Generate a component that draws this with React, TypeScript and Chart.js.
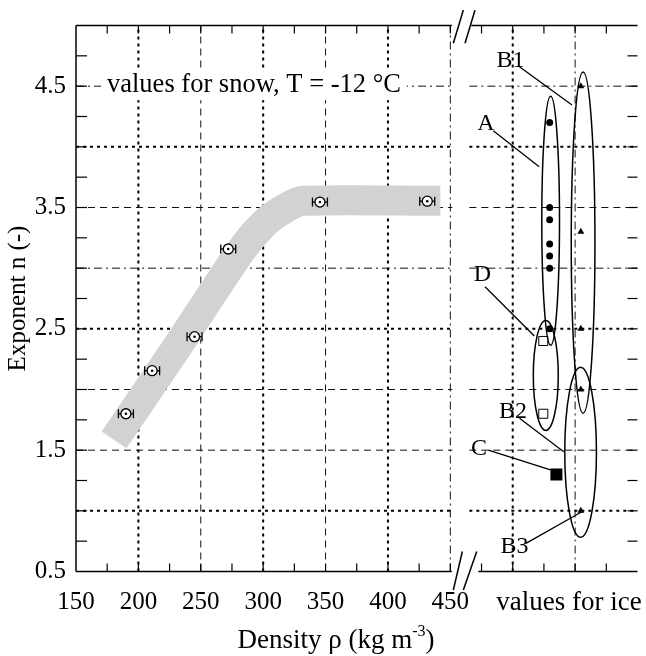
import React, { useEffect, useRef } from "react";
import { Chart, registerables } from "chart.js";

Chart.register(...registerables);

const SERIF = '"Liberation Serif", "Times New Roman", Times, serif';

// ---------------- data ----------------
// snow, T = -12 °C : density (kg m-3) vs exponent n
const snowDensity = [190, 211, 245, 272, 345.5, 431.5];
const snowExponent = [1.8, 2.155, 2.435, 3.158, 3.545, 3.552];
const snowDensityError = [6, 6, 6, 6, 6, 6];

// grey trend band through the snow values
const trendDensity = [180.5, 231, 282, 301, 317, 332, 442];
const trendExponent = [1.585, 2.35, 3.14, 3.37, 3.49, 3.555, 3.555];

// values for ice (plotted in the "ice" column right of the axis break)
const iceAPosition = 529.6;
const iceAExponent = [4.2, 3.5, 3.4, 3.2, 3.1, 3.0, 2.5];
const iceBPosition = 554.6;
const iceBExponent = [4.5, 3.3, 2.5, 2.0, 1.0];
const iceDPosition = 524.5;
const iceDExponent = [2.4, 1.8];
const iceCPosition = 535;
const iceCExponent = [1.3];

// group ellipses: A, B1, D, B2
const groupEllipseX = [530.4, 556.4, 526.5, 554.4];
const groupEllipseY = [3.39, 3.21, 2.116, 1.483];
const groupEllipseHalfX = [7.1, 9.5, 10, 12.7];
const groupEllipseHalfY = [1.026, 1.406, 0.453, 0.7];

// group labels and their leader lines
const groupLabels = ["B1", "A", "D", "B2", "C", "B3"];
const groupLabelX = [498.2, 478.5, 475.7, 500.2, 473, 501.5];
const groupLabelY = [4.709, 4.194, 2.944, 1.819, 1.51, 0.704];
const leaderStartX = [505.4, 484.4, 477.8, 505.4, 480.4, 510.6];
const leaderStartY = [4.66, 4.133, 2.847, 1.763, 1.501, 0.732];
const leaderEndX = [547.5, 521.2, 517.3, 540.9, 530.3, 555.4];
const leaderEndY = [4.345, 3.836, 2.441, 1.487, 1.337, 0.992];

// axes
const xTickValues = [150, 200, 250, 300, 350, 400, 450];
const yTickValues = [0.5, 1.5, 2.5, 3.5, 4.5];
const xGridValues = [200, 250, 300, 350, 400, 450, 500, 550];
const yGridValues = [1.0, 1.5, 2.0, 2.5, 3.0, 3.5, 4.0, 4.5];
const breakAt = 450;

const NOTE = "values for snow, T = -12 °C";
const ICE_LABEL = "values for ice";

// ---------------- styles ----------------
const xGridStyle = ["dot", "dash", "dot", "dash", "dot", "dashdot", "dot", "dashdot"];
const yGridStyle = ["dot", "dash", "dash", "dot", "dashdot", "dash", "dot", "dashdot"];
const GRID: Record<string, { w: number; dash: number[]; c: string }> = {
  dot: { w: 2, dash: [3, 4], c: "#000" },
  dash: { w: 1, dash: [7, 5], c: "#111" },
  dashdot: { w: 1, dash: [8, 4, 2, 4], c: "#111" },
};

const pts = (xs: number[], ys: number[]) => ys.map((v, i) => ({ x: xs[i], y: v }));
const col = (x: number, ys: number[]) => ys.map((v) => ({ x, y: v }));

const line = (ctx: CanvasRenderingContext2D, x1: number, y1: number, x2: number, y2: number) => {
  ctx.beginPath();
  ctx.moveTo(x1, y1);
  ctx.lineTo(x2, y2);
  ctx.stroke();
};

const decor = {
  id: "decor",
  beforeDatasetsDraw(chart: any) {
    const { ctx, chartArea: a } = chart;
    const xs = chart.scales.x;
    const ys = chart.scales.y;
    const bx = xs.getPixelForValue(breakAt);
    ctx.save();
    ctx.lineCap = "butt";
    xGridValues.forEach((v, i) => {
      const st = GRID[xGridStyle[i]];
      ctx.lineWidth = st.w;
      ctx.strokeStyle = st.c;
      ctx.setLineDash(st.dash);
      const X = xs.getPixelForValue(v);
      line(ctx, X, a.bottom, X, a.top);
    });
    yGridValues.forEach((v, i) => {
      const st = GRID[yGridStyle[i]];
      ctx.lineWidth = st.w;
      ctx.strokeStyle = st.c;
      ctx.setLineDash(st.dash);
      const Y = ys.getPixelForValue(v);
      line(ctx, a.left, Y, bx + 2, Y);
      line(ctx, bx + 19, Y, a.right, Y);
    });
    ctx.setLineDash([]);
    ctx.font = `26.5px ${SERIF}`;
    const nx = a.left + 31;
    const ny = ys.getPixelForValue(4.5) + 6;
    const w = ctx.measureText(NOTE).width;
    ctx.fillStyle = "#fff";
    ctx.fillRect(nx - 6, ny - 21, w + 12, 29);
    ctx.fillStyle = "#000";
    ctx.textBaseline = "alphabetic";
    ctx.textAlign = "left";
    ctx.fillText(NOTE, nx, ny);
    ctx.restore();
  },
  afterDatasetDraw(chart: any, args: any) {
    if (chart.data.datasets[args.index].label !== "trend") return;
    const { ctx } = chart;
    const xs = chart.scales.x;
    const ys = chart.scales.y;
    ctx.save();
    ctx.strokeStyle = "#000";
    ctx.lineWidth = 1.3;
    snowDensity.forEach((d, i) => {
      const x1 = xs.getPixelForValue(d - snowDensityError[i]);
      const x2 = xs.getPixelForValue(d + snowDensityError[i]);
      const Y = ys.getPixelForValue(snowExponent[i]);
      line(ctx, x1, Y, x2, Y);
      line(ctx, x1, Y - 4.5, x1, Y + 4.5);
      line(ctx, x2, Y - 4.5, x2, Y + 4.5);
    });
    ctx.restore();
  },
  afterDatasetsDraw(chart: any) {
    const { ctx, chartArea: a } = chart;
    const xs = chart.scales.x;
    const ys = chart.scales.y;
    const bx = xs.getPixelForValue(breakAt);
    ctx.save();
    ctx.strokeStyle = "#000";
    ctx.fillStyle = "#000";
    ctx.setLineDash([]);

    // ellipses
    ctx.lineWidth = 1.5;
    groupEllipseX.forEach((cx, i) => {
      const X = xs.getPixelForValue(cx);
      const Y = ys.getPixelForValue(groupEllipseY[i]);
      const rx = Math.abs(xs.getPixelForValue(cx + groupEllipseHalfX[i]) - X);
      const ry = Math.abs(ys.getPixelForValue(groupEllipseY[i] + groupEllipseHalfY[i]) - Y);
      ctx.beginPath();
      ctx.ellipse(X, Y, rx, ry, 0, 0, Math.PI * 2);
      ctx.stroke();
    });

    // leaders and labels
    ctx.lineWidth = 1.3;
    ctx.font = `24px ${SERIF}`;
    ctx.textAlign = "center";
    ctx.textBaseline = "middle";
    groupLabels.forEach((t, i) => {
      line(
        ctx,
        xs.getPixelForValue(leaderStartX[i]),
        ys.getPixelForValue(leaderStartY[i]),
        xs.getPixelForValue(leaderEndX[i]),
        ys.getPixelForValue(leaderEndY[i])
      );
      ctx.fillText(t, xs.getPixelForValue(groupLabelX[i]), ys.getPixelForValue(groupLabelY[i]));
    });

    // frame
    ctx.lineWidth = 1.5;
    line(ctx, a.left, a.top, a.left, a.bottom);
    line(ctx, a.left, a.bottom, bx + 1.5, a.bottom);
    line(ctx, bx + 28, a.bottom, a.right, a.bottom);
    line(ctx, a.left, a.top, bx + 1.5, a.top);
    line(ctx, bx + 21, a.top, a.right, a.top);

    // inward ticks
    ctx.lineWidth = 1.2;
    for (let v = 175; v < 600; v += 25) {
      const X = xs.getPixelForValue(v);
      if (X > bx + 2 && X < bx + 26) continue;
      line(ctx, X, a.bottom, X, a.bottom - 8);
      line(ctx, X, a.top, X, a.top + 8);
    }
    for (let v = 0.75; v < 5; v += 0.25) {
      const Y = ys.getPixelForValue(v);
      line(ctx, a.left, Y, a.left + 11, Y);
      line(ctx, a.right, Y, a.right - 10, Y);
    }

    // axis break marks
    ctx.lineWidth = 1.5;
    line(ctx, bx + 3, a.bottom + 18.5, bx + 12, a.bottom - 20);
    line(ctx, bx + 13, a.bottom + 18.5, bx + 26.4, a.bottom - 20);
    line(ctx, bx + 3, a.top + 17.8, bx + 13, a.top - 15.5);
    line(ctx, bx + 14.7, a.top + 17.8, bx + 24.7, a.top - 15.5);

    // "values for ice" under the ice column
    ctx.font = `27px ${SERIF}`;
    ctx.textAlign = "left";
    ctx.textBaseline = "middle";
    ctx.fillText(ICE_LABEL, bx + 46, a.bottom + 31.5);

    // x title with superscript
    const main = "Density \u03c1 (kg m";
    const sup = "-3";
    const end = ")";
    ctx.font = `27px ${SERIF}`;
    const w1 = ctx.measureText(main).width;
    const w3 = ctx.measureText(end).width;
    ctx.font = `16px ${SERIF}`;
    const w2 = ctx.measureText(sup).width;
    const total = w1 + w2 + w3;
    const cx = a.left + 260;
    const base = a.bottom + 76.5;
    let x0 = cx - total / 2;
    ctx.textBaseline = "alphabetic";
    ctx.font = `27px ${SERIF}`;
    ctx.fillText(main, x0, base);
    x0 += w1;
    ctx.font = `16px ${SERIF}`;
    ctx.fillText(sup, x0, base - 12);
    x0 += w2;
    ctx.font = `27px ${SERIF}`;
    ctx.fillText(end, x0, base);

    // y title
    ctx.save();
    ctx.translate(18, (a.top + a.bottom) / 2);
    ctx.rotate(-Math.PI / 2);
    ctx.textAlign = "center";
    ctx.textBaseline = "middle";
    ctx.font = `25px ${SERIF}`;
    ctx.fillText("Exponent n (-)", 0, 0);
    ctx.restore();

    ctx.restore();
  },
};

export default function App() {
  const ref = useRef<HTMLCanvasElement | null>(null);

  useEffect(() => {
    if (!ref.current) return;
    const chart = new Chart(ref.current, {
      type: "scatter",
      data: {
        datasets: [
          {
            label: "snow",
            data: pts(snowDensity, snowExponent),
            pointStyle: "circle",
            pointRadius: 5,
            pointBorderWidth: 1.3,
            pointBorderColor: "#000",
            pointBackgroundColor: "#fff",
            order: 2,
          },
          {
            label: "snow centre",
            data: pts(snowDensity, snowExponent),
            pointStyle: "circle",
            pointRadius: 1.3,
            pointBorderWidth: 0,
            pointBackgroundColor: "#000",
            order: 1,
          },
          {
            label: "A",
            data: col(iceAPosition, iceAExponent),
            pointStyle: "circle",
            pointRadius: 3.5,
            pointBorderWidth: 0,
            pointBackgroundColor: "#000",
            order: 3,
          },
          {
            label: "B",
            data: col(iceBPosition, iceBExponent),
            pointStyle: "triangle",
            pointRadius: 4,
            pointBorderWidth: 0,
            pointBackgroundColor: "#000",
            order: 3,
          },
          {
            label: "D",
            data: col(iceDPosition, iceDExponent),
            pointStyle: "rect",
            pointRadius: 6.4,
            pointBorderWidth: 1,
            pointBorderColor: "#000",
            pointBackgroundColor: "#fff",
            order: 3,
          },
          {
            label: "C",
            data: col(iceCPosition, iceCExponent),
            pointStyle: "rect",
            pointRadius: 8.5,
            pointBorderWidth: 0,
            pointBackgroundColor: "#000",
            order: 3,
          },
          {
            type: "line",
            label: "trend",
            data: pts(trendDensity, trendExponent),
            borderColor: "#d2d2d2",
            borderWidth: 30,
            borderCapStyle: "butt",
            borderJoinStyle: "round",
            tension: 0.25,
            pointRadius: 0,
            fill: false,
            order: 20,
          } as any,
        ],
      },
      options: {
        animation: false,
        responsive: false,
        maintainAspectRatio: false,
        events: [],
        layout: { padding: { top: 25.5, left: 0, right: 0, bottom: 0 } },
        plugins: { legend: { display: false }, tooltip: { enabled: false } },
        scales: {
          x: {
            type: "linear",
            min: 150,
            max: 600,
            afterBuildTicks: (s: any) => {
              s.ticks = xTickValues.map((v) => ({ value: v }));
            },
            afterFit: (s: any) => {
              s.height = 84.5;
            },
            ticks: {
              callback: (v: any) => String(v),
              font: { family: SERIF, size: 25 },
              color: "#000",
              padding: 16,
              maxRotation: 0,
              autoSkip: false,
            },
            grid: { display: false, drawTicks: false },
            border: { display: false },
          },
          y: {
            type: "linear",
            min: 0.5,
            max: 5,
            afterBuildTicks: (s: any) => {
              s.ticks = yTickValues.map((v) => ({ value: v }));
            },
            afterFit: (s: any) => {
              s.width = 76;
            },
            ticks: {
              callback: (v: any) => Number(v).toFixed(1),
              font: { family: SERIF, size: 25 },
              color: "#000",
              padding: 10,
              autoSkip: false,
            },
            grid: { display: false, drawTicks: false },
            border: { display: false },
          },
        },
      } as any,
      plugins: [decor],
    });
    return () => chart.destroy();
  }, []);

  return (
    <div style={{ position: "absolute", left: 0, top: 0, width: 646, height: 656, background: "#fff" }}>
      <canvas ref={ref} width={646} height={656} style={{ display: "block", width: 646, height: 656 }} />
    </div>
  );
}
